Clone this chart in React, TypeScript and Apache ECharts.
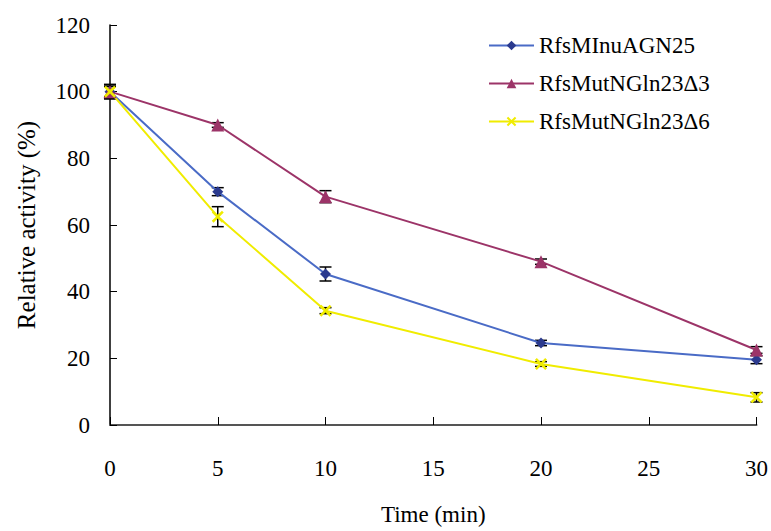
import React, { useEffect, useRef } from "react";
import * as echarts from "echarts";

const times = [0, 5, 10, 20, 30];
const seriesNames = ["RfsMInuAGN25", "RfsMutNGln23Δ3", "RfsMutNGln23Δ6"];
const blueVals = [100, 70, 45.3, 24.6, 19.6];
const blueErr = [2, 1.2, 2.1, 0.8, 1.2];
const purpleVals = [100, 90, 68.5, 49, 22.5];
const purpleErr = [1.5, 0.7, 1.8, 0.8, 1.0];
const yellowVals = [100, 62.5, 34.3, 18.3, 8.3];
const yellowErr = [2.2, 3, 0.9, 0.7, 1.4];

const FONT = "Liberation Serif";
const FS = 23;
const crossPath =
  "path://M0,1.5L1.5,0L5,3.5L8.5,0L10,1.5L6.5,5L10,8.5L8.5,10L5,6.5L1.5,10L0,8.5L3.5,5Z";

function errData(vals: number[], errs: number[]) {
  return times.map((t, i) => [t, vals[i] - errs[i], vals[i] + errs[i]]);
}

const errRender = (params: any, api: any) => {
  const x = api.value(0);
  const lo = api.coord([x, api.value(1)]);
  const hi = api.coord([x, api.value(2)]);
  const w = 6;
  const style = { stroke: "#000", lineWidth: 1.5 };
  return {
    type: "group",
    children: [
      { type: "line", shape: { x1: lo[0], y1: lo[1], x2: hi[0], y2: hi[1] }, style },
      { type: "line", shape: { x1: lo[0] - w, y1: lo[1], x2: lo[0] + w, y2: lo[1] }, style },
      { type: "line", shape: { x1: hi[0] - w, y1: hi[1], x2: hi[0] + w, y2: hi[1] }, style },
    ],
  };
};

export default function App() {
  const ref = useRef<HTMLDivElement>(null);
  useEffect(() => {
    const chart = echarts.init(ref.current!, null, { renderer: "svg" });
    const pair = (vals: number[]) => times.map((t, i) => [t, vals[i]]);
    chart.setOption({
      animation: false,
      backgroundColor: "#fff",
      textStyle: { fontFamily: FONT },
      grid: { left: 110, right: 13, top: 25, bottom: 99 },
      legend: {
        orient: "vertical",
        left: 483,
        top: 29,
        itemWidth: 45,
        itemHeight: 12,
        itemGap: 15,
        data: seriesNames,
        textStyle: { fontFamily: FONT, fontSize: FS, color: "#000", lineHeight: 23 },
      },
      xAxis: {
        type: "value",
        min: 0,
        max: 30,
        interval: 5,
        name: "Time (min)",
        nameLocation: "middle",
        nameGap: 78,
        nameTextStyle: { fontFamily: FONT, fontSize: FS, color: "#000" },
        splitLine: { show: false },
        axisLine: { lineStyle: { color: "#555", width: 2 } },
        axisTick: { inside: true, length: 8, lineStyle: { color: "#000", width: 1 } },
        axisLabel: { margin: 32, fontFamily: FONT, fontSize: FS, color: "#000" },
      },
      yAxis: {
        type: "value",
        min: 0,
        max: 120,
        interval: 20,
        name: "Relative activity (%)",
        nameLocation: "middle",
        nameGap: 71,
        nameTextStyle: { fontFamily: FONT, fontSize: 25, color: "#000" },
        splitLine: { show: false },
        axisLine: { show: true, lineStyle: { color: "#000", width: 1.5 } },
        axisTick: { show: true, inside: true, length: 7, lineStyle: { color: "#000", width: 1 } },
        axisLabel: { margin: 20, fontFamily: FONT, fontSize: FS, color: "#000" },
      },
      series: [
        {
          type: "custom",
          name: "errBlue",
          renderItem: errRender,
          data: errData(blueVals, blueErr),
          encode: { x: 0, y: [1, 2] },
          z: 1,
        },
        {
          type: "custom",
          name: "errPurple",
          renderItem: errRender,
          data: errData(purpleVals, purpleErr),
          encode: { x: 0, y: [1, 2] },
          z: 1,
        },
        {
          type: "custom",
          name: "errYellow",
          renderItem: errRender,
          data: errData(yellowVals, yellowErr),
          encode: { x: 0, y: [1, 2] },
          z: 1,
        },
        {
          type: "line",
          name: seriesNames[0],
          data: pair(blueVals),
          symbol: "diamond",
          symbolSize: 11,
          lineStyle: { color: "#4A6BC6", width: 2 },
          itemStyle: { color: "#2B3A8E" },
          z: 3,
        },
        {
          type: "line",
          name: seriesNames[1],
          data: pair(purpleVals),
          symbol: "triangle",
          symbolSize: 13,
          lineStyle: { color: "#9C3468", width: 2 },
          itemStyle: { color: "#9C3468" },
          z: 3,
        },
        {
          type: "line",
          name: seriesNames[2],
          data: pair(yellowVals),
          symbol: crossPath,
          symbolSize: 12,
          lineStyle: { color: "#F0EC00", width: 2 },
          itemStyle: { color: "#F0EC00" },
          z: 3,
        },
      ],
    });
    return () => chart.dispose();
  }, []);
  return (
    <div
      ref={ref}
      style={{ position: "absolute", left: 0, top: 0, width: 771, height: 531 }}
    />
  );
}
